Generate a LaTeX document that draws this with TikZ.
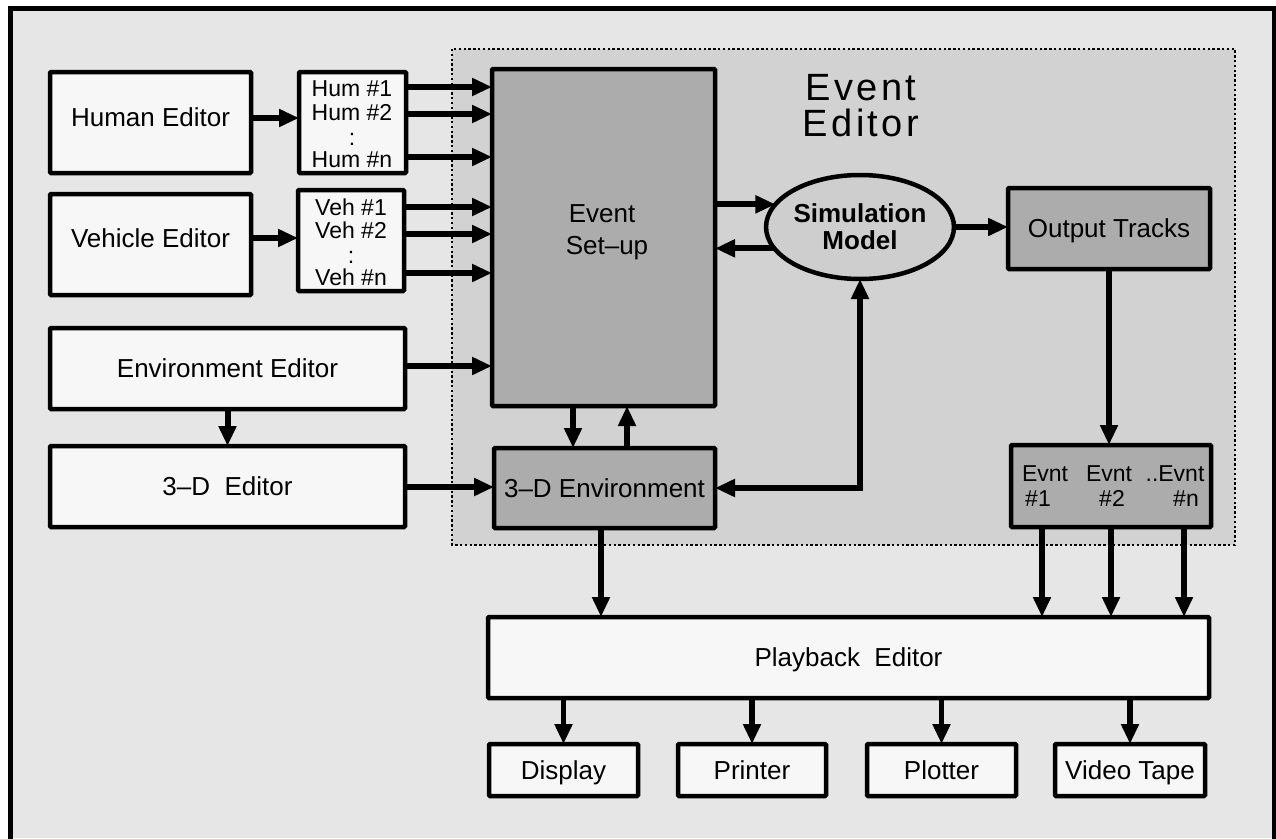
\documentclass[tikz,border=0pt]{standalone}
\usepackage{fontspec}
\setmainfont{Liberation Sans}
\newfontfamily\spacedfont[LetterSpace=9]{Liberation Sans}
\usetikzlibrary{arrows.meta,shapes.geometric}
\definecolor{bgout}{RGB}{230,230,230}
\definecolor{bgev}{RGB}{210,210,210}
\definecolor{wfill}{RGB}{247,247,247}
\definecolor{dfill}{RGB}{172,172,172}
\definecolor{efill}{RGB}{206,206,206}
\tikzset{
  box/.style={draw=black, line width=4.5pt, rounded corners=1pt, inner sep=0pt, outer sep=0pt, font=\fontsize{26}{30}\selectfont, text height=19pt, text depth=0.5pt},
  wbox/.style={box, fill=wfill},
  dbox/.style={box, fill=dfill},
  lbl/.style={inner sep=0pt, font=\fontsize{26}{30}\selectfont, text height=19pt, text depth=0.5pt},
  slbl/.style={inner sep=0pt, font=\fontsize{23}{26}\selectfont, text height=17pt, text depth=0.5pt},
  arr/.style={line width=6pt, -{Triangle[length=20pt,width=17pt]}},
  biarr/.style={line width=6pt, {Triangle[length=20pt,width=17pt]}-{Triangle[length=20pt,width=17pt]}},
}
\begin{document}
\begin{tikzpicture}[x=1pt,y=-1pt]
\useasboundingbox (0,0) rectangle (1276,838);
\fill[white] (0,0) rectangle (1276,838);
\fill[bgout] (10.5,8.5) rectangle (1276,838);
\draw[line width=5pt] (10.5,850) -- (10.5,8.5) -- (1274,8.5) -- (1274,850);
% Event editor region
\draw[fill=bgev, line width=2.6pt, dash pattern=on 2.4pt off 2.4pt] (452,49) rectangle (1235,545);
\node[inner sep=0pt, align=center, font=\spacedfont\fontsize{38}{36}\selectfont] (evtitle) at (861,106) {Event\\Editor};

% left boxes
\node[wbox, minimum width=201pt, minimum height=101pt] (human) at (150.5,122.5) {};
\node[lbl] (humant) at (150.5,117) {Human Editor};
\node[wbox, minimum width=107pt, minimum height=101pt] (humb) at (352.5,122.5) {};
\node[slbl] (hum1) at (352,88) {Hum \#1};
\node[slbl] (hum2) at (352,112) {Hum \#2};
\node[slbl] (humd) at (352,137) {:};
\node[slbl] (humn) at (352,159) {Hum \#n};

\node[wbox, minimum width=201pt, minimum height=101pt] (vehicle) at (150.5,244.5) {};
\node[lbl] (vehiclet) at (150.5,238) {Vehicle Editor};
\node[wbox, minimum width=106pt, minimum height=101pt] (vehb) at (351,240.5) {};
\node[slbl] (veh1) at (351,207) {Veh \#1};
\node[slbl] (veh2) at (351,230) {Veh \#2};
\node[slbl] (vehd) at (351,255) {:};
\node[slbl] (vehn) at (351,277) {Veh \#n};

\node[wbox, minimum width=355pt, minimum height=81pt] (envEd) at (227.5,368.5) {Environment Editor};
\node[wbox, minimum width=355pt, minimum height=81pt] (dEd) at (227.5,486.5) {3--D\ \ Editor};

% event editor contents
\node[dbox, minimum width=223pt, minimum height=337pt] (setup) at (603.5,237.5) {};
\node[lbl] (setupt1) at (602,213) {Event};
\node[lbl] (setupt2) at (607,245) {Set--up};
\node[ellipse, draw=black, line width=4.5pt, fill=efill, minimum width=178pt, minimum height=104pt, inner sep=0pt, outer sep=0pt, align=center, font=\bfseries\fontsize{26}{27}\selectfont] (sim) at (860,227) {Simulation\\Model};
\node[dbox, minimum width=202pt, minimum height=81pt] (out) at (1109,228.5) {Output Tracks};
\node[dbox, minimum width=200pt, minimum height=82pt] (evnt) at (1111,486) {};
\node[slbl] (ev1a) at (1045,473) {Evnt};
\node[slbl] (ev1b) at (1038,498) {\#1};
\node[slbl] (ev2a) at (1109,473) {Evnt};
\node[slbl] (ev2b) at (1112,498) {\#2};
\node[slbl] (ev3a) at (1175,473) {..Evnt};
\node[slbl] (ev3b) at (1186,498) {\#n};
\node[dbox, minimum width=221pt, minimum height=80pt] (env3) at (604.5,488) {3--D Environment};

% bottom
\node[wbox, minimum width=721pt, minimum height=81pt] (play) at (848.5,657.5) {Playback\ \ Editor};
\node[wbox, minimum width=149pt, minimum height=52pt] (display) at (563.5,770) {Display};
\node[wbox, minimum width=148pt, minimum height=52pt] (printer) at (752,770) {Printer};
\node[wbox, minimum width=149pt, minimum height=52pt] (plotter) at (941.5,770) {Plotter};
\node[wbox, minimum width=150pt, minimum height=52pt] (video) at (1130,770) {Video Tape};

% connectors
\draw[arr] (human.east |- 0,118) -- (humb.west |- 0,118);
\draw[arr] (vehicle.east |- 0,238) -- (vehb.west |- 0,238);
\foreach \yy in {87,114,157} \draw[arr] (humb.east |- 0,\yy) -- (setup.west |- 0,\yy);
\foreach \yy in {207,234,273} \draw[arr] (vehb.east |- 0,\yy) -- (setup.west |- 0,\yy);
\draw[arr] (envEd.east |- 0,366) -- (setup.west |- 0,366);
\draw[arr] (envEd.south) -- (dEd.north);
\draw[arr] (dEd.east |- 0,487) -- (env3.west |- 0,487);
\draw[arr] (setup.south -| 573,0) -- (env3.north -| 573,0);
\draw[arr] (env3.north -| 627,0) -- (setup.south -| 627,0);
\draw[arr] (setup.east |- sim.165) -- (sim.165);
\draw[arr] (sim.194) -- (setup.east |- sim.194);
\draw[biarr] (sim.south) |- (env3.east);
\draw[arr] (sim.east) -- (out.west |- sim.east);
\draw[arr] (out.south) -- (out.south |- evnt.north);
\foreach \xx in {1042,1111,1184} \draw[arr, line width=5.5pt] (evnt.south -| \xx,0) -- (play.north -| \xx,0);
\draw[arr, line width=5.5pt] (env3.south -| 601,0) -- (play.north -| 601,0);
\draw[arr, line width=5.5pt] (play.south -| display.north) -- (display.north);
\draw[arr, line width=5.5pt] (play.south -| printer.north) -- (printer.north);
\draw[arr, line width=5.5pt] (play.south -| plotter.north) -- (plotter.north);
\draw[arr, line width=5.5pt] (play.south -| video.north) -- (video.north);
\end{tikzpicture}
\end{document}
